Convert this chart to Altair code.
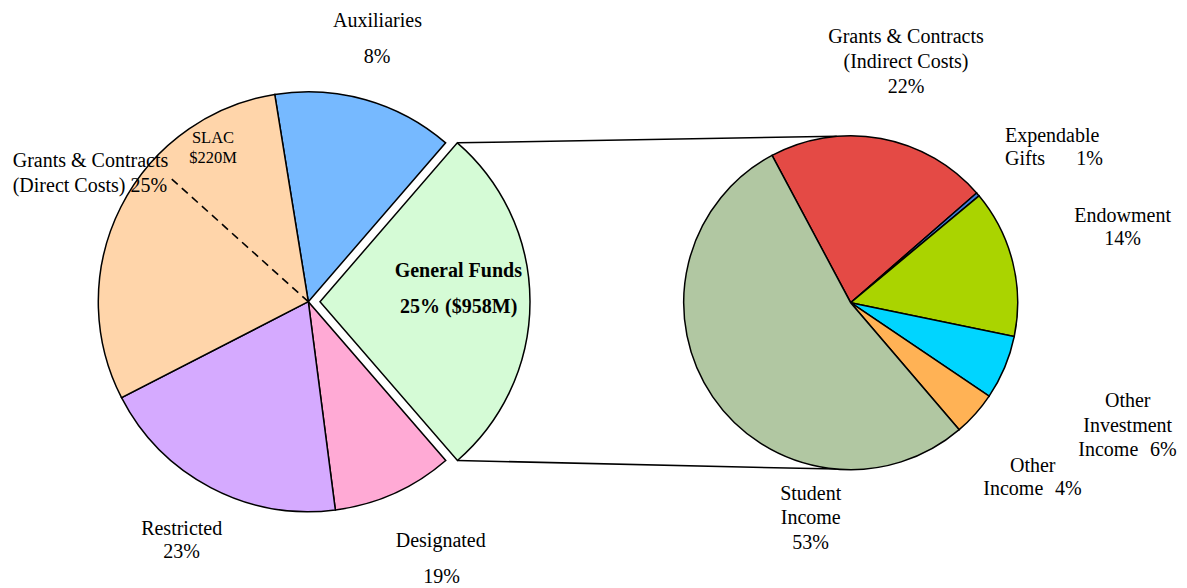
import math
import altair as alt
import pandas as pd

W, H = 1187, 588

# ---------------- data (shares of each circle, %) -------------
left_names = ["Auxiliaries", "General Funds", "Designated", "Restricted",
              "Grants & Contracts (Direct Costs)"]
left_share = [13.9, 27.3, 9.3, 19.5, 30.0]
slac_share = 10.8          # SLAC part of Grants & Contracts (dashed divider)
exploded_name = "General Funds"

right_names = ["Grants & Contracts (Indirect Costs)", "Expendable Gifts", "Endowment",
               "Other Investment Income", "Other Income", "Student Income"]
right_share = [21.4, 0.35, 14.3, 6.2, 4.3, 53.45]

# label text lines
label_lines = [
    "Auxiliaries", "8%",
    "SLAC", "$220M",
    "Grants & Contracts", "(Direct Costs) 25%",
    "General Funds", "25% ($958M)",
    "Restricted", "23%",
    "Designated", "19%",
    "Grants & Contracts", "(Indirect Costs)", "22%",
    "Expendable", "Gifts", "1%",
    "Endowment", "14%",
    "Other", "Investment", "Income", "6%",
    "Other", "Income", "4%",
    "Student", "Income", "53%",
]

# ---------------- layout / style ----------------
left_colors = ["#76B9FF", "#D5FBD6", "#FFAAD5", "#D5AAFF", "#FFD5AA"]
right_colors = ["#E44A45", "#3C7DDC", "#AAD400", "#00D5FF", "#FFB255", "#B1C7A2"]
LEFT = dict(cx=308.3, cy=301.7, r=210, start=350.8, explode=11.7)
RIGHT = dict(cx=850.7, cy=302.7, r=167, start=331.9, explode=0)
CONNECT_TARGET = [-4.8, 184.8]   # where the connector lines meet the right circle (deg)
FONT = "Liberation Serif"

# (x, y, align, size, weight) for each label line
label_layout = [
    (377.5, 27, "center", 20, "normal"), (377, 63, "center", 20, "normal"),
    (213, 143, "center", 16.5, "normal"), (213, 163, "center", 16.5, "normal"),
    (12.7, 167, "left", 20, "normal"), (12.7, 192, "left", 20, "normal"),
    (458.3, 277, "center", 20, "bold"), (458.7, 313, "center", 20, "bold"),
    (181.7, 535, "center", 20, "normal"), (181.7, 558, "center", 20, "normal"),
    (440.7, 547, "center", 20, "normal"), (441.7, 583, "center", 20, "normal"),
    (906, 43, "center", 20, "normal"), (906, 68, "center", 20, "normal"), (906, 93, "center", 20, "normal"),
    (1005, 142, "left", 20, "normal"), (1005, 165, "left", 20, "normal"), (1103, 165, "right", 20, "normal"),
    (1122.7, 222, "center", 20, "normal"), (1122.7, 245, "center", 20, "normal"),
    (1127.7, 407, "center", 20, "normal"), (1127.7, 432, "center", 20, "normal"),
    (1078.3, 456, "left", 20, "normal"), (1176.7, 456, "right", 20, "normal"),
    (1032.7, 472, "center", 20, "normal"), (983.3, 495, "left", 20, "normal"), (1081.7, 495, "right", 20, "normal"),
    (810.7, 500, "center", 20, "normal"), (810.7, 524, "center", 20, "normal"), (810.7, 549, "center", 20, "normal"),
]

xs = alt.Scale(domain=[0, W], range=[0, W], nice=False, zero=False)
ys = alt.Scale(domain=[0, H], range=[0, H], nice=False, zero=False)


def pie(names, shares, colors, geo):
    df = pd.DataFrame({"name": names, "share": shares, "order": list(range(len(names)))})
    s = math.radians(geo["start"])
    return (
        alt.Chart(df)
        .transform_window(t1="sum(share)", sort=[alt.SortField("order")], frame=[None, 0])
        .transform_calculate(
            t0="datum.t1 - datum.share",
            mid=f"{s} + (datum.t1 - datum.share / 2) / 100 * 2 * PI",
            off=f"datum.name == '{exploded_name}' ? {geo['explode']} : 0",
        )
        .transform_calculate(
            px=f"{geo['cx']} + datum.off * sin(datum.mid)",
            py=f"{geo['cy']} - datum.off * cos(datum.mid)",
        )
        .mark_arc(radius=geo["r"], stroke="black", strokeWidth=1.5)
        .encode(
            theta=alt.Theta("t0:Q", stack=None,
                            scale=alt.Scale(domain=[0, 100], range=[s, s + 2 * math.pi])),
            theta2="t1:Q",
            x=alt.X("px:Q", scale=xs, axis=None),
            y=alt.Y("py:Q", scale=ys, axis=None),
            color=alt.Color("name:N", scale=alt.Scale(domain=names, range=colors), legend=None),
        )
    )


left_pie = pie(left_names, left_share, left_colors, LEFT)
right_pie = pie(right_names, right_share, right_colors, RIGHT)

# dashed SLAC divider inside the Grants & Contracts slice (last slice of the left pie)
ls = math.radians(LEFT["start"])
slac = (
    alt.Chart(pd.DataFrame({"share": [slac_share]}))
    .transform_calculate(a=f"{ls} + (100 - datum.share) / 100 * 2 * PI")
    .transform_calculate(
        x1=f"{LEFT['cx']}", y1=f"{LEFT['cy']}",
        x2=f"{LEFT['cx']} + {LEFT['r'] * 0.9} * sin(datum.a)",
        y2=f"{LEFT['cy']} - {LEFT['r'] * 0.9} * cos(datum.a)",
    )
    .mark_rule(color="black", strokeWidth=1.6, strokeDash=[8, 5.5])
    .encode(x=alt.X("x1:Q", scale=xs, axis=None), y=alt.Y("y1:Q", scale=ys, axis=None),
            x2="x2:Q", y2="y2:Q")
)

# connector lines from the exploded General Funds slice to the right pie
gi = left_names.index(exploded_name)
c0 = sum(left_share[:gi])
c1 = c0 + left_share[gi]
gmid = ls + (c0 + left_share[gi] / 2) / 100 * 2 * math.pi
conn_df = pd.DataFrame({"edge": [c0, c1], "target": CONNECT_TARGET})
connect = (
    alt.Chart(conn_df)
    .transform_calculate(
        a=f"{ls} + datum.edge / 100 * 2 * PI",
        b="datum.target * PI / 180",
    )
    .transform_calculate(
        x1=f"{LEFT['cx']} + {LEFT['explode']} * sin({gmid}) + {LEFT['r']} * sin(datum.a)",
        y1=f"{LEFT['cy']} - {LEFT['explode']} * cos({gmid}) - {LEFT['r']} * cos(datum.a)",
        x2=f"{RIGHT['cx']} + {RIGHT['r']} * sin(datum.b)",
        y2=f"{RIGHT['cy']} - {RIGHT['r']} * cos(datum.b)",
    )
    .mark_rule(color="black", strokeWidth=1.5)
    .encode(x=alt.X("x1:Q", scale=xs, axis=None), y=alt.Y("y1:Q", scale=ys, axis=None),
            x2="x2:Q", y2="y2:Q")
)

# text labels grouped by style
lab = pd.DataFrame({
    "text": label_lines,
    "x": [p[0] for p in label_layout],
    "y": [p[1] for p in label_layout],
    "align": [p[2] for p in label_layout],
    "size": [p[3] for p in label_layout],
    "weight": [p[4] for p in label_layout],
})
text_layers = []
for (al, sz, wt), g in lab.groupby(["align", "size", "weight"]):
    text_layers.append(
        alt.Chart(g.reset_index(drop=True))
        .mark_text(align=al, baseline="alphabetic", font=FONT, fontSize=float(sz),
                   fontWeight=wt, color="black")
        .encode(x=alt.X("x:Q", scale=xs, axis=None), y=alt.Y("y:Q", scale=ys, axis=None),
                text="text:N")
    )

chart = (
    alt.layer(connect, left_pie, right_pie, slac, *text_layers)
    .resolve_scale(color="independent", theta="independent")
    .properties(width=W, height=H, padding=0, autosize="none", background="white")
    .configure_view(stroke=None)
)

chart.save("out.html", embed_options={"renderer": "svg", "actions": False})
